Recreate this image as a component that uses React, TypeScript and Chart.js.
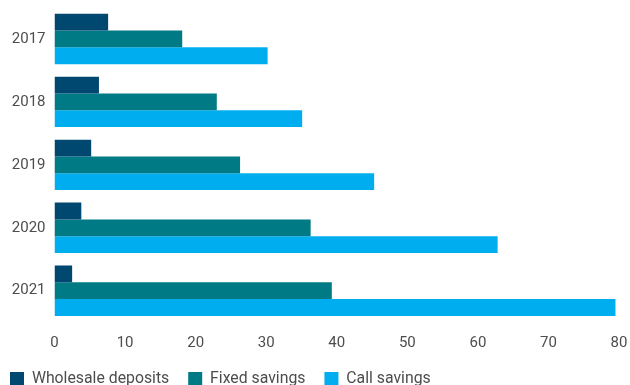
import React, { useEffect, useRef } from "react";
import { Chart, registerables } from "chart.js";

Chart.register(...registerables);

const years = ["2017", "2018", "2019", "2020", "2021"];
const wholesaleDeposits = [7.6, 6.3, 5.2, 3.8, 2.5];
const fixedSavings = [18.1, 23.0, 26.3, 36.3, 39.3];
const callSavings = [30.2, 35.1, 45.3, 62.8, 79.5];
const xTickMin = 0;
const xTickMax = 80;
const xTickStep = 10;

const FONT = "Roboto, 'Noto Sans', sans-serif";
const TICK_COLOR = "#4d4d4d";

const legendShift = {
  id: "legendShift",
  afterLayout(chart: any) {
    if (chart.legend) {
      chart.legend.left -= 9;
    }
  },
};

export default function App() {
  const ref = useRef<HTMLCanvasElement | null>(null);

  useEffect(() => {
    document.body.style.margin = "0";
    const canvas = ref.current;
    if (!canvas) return;
    const chart = new Chart(canvas, {
      type: "bar",
      data: {
        labels: years,
        datasets: [
          { label: "Wholesale deposits", data: wholesaleDeposits, backgroundColor: "#004870" },
          { label: "Fixed savings", data: fixedSavings, backgroundColor: "#007A84" },
          { label: "Call savings", data: callSavings, backgroundColor: "#00AEEF" },
        ],
      },
      options: {
        indexAxis: "y",
        animation: false,
        responsive: false,
        maintainAspectRatio: false,
        datasets: { bar: { categoryPercentage: 0.8, barPercentage: 1.0 } },
        layout: { padding: { top: 0, right: 0, left: 0, bottom: 0 } },
        plugins: {
          tooltip: { enabled: false },
          legend: {
            position: "bottom",
            align: "start",
            labels: {
              boxWidth: 14,
              boxHeight: 14,
              padding: 19,
              color: TICK_COLOR,
              font: { family: FONT, size: 15.8 },
            },
          },
        },
        scales: {
          x: {
            min: xTickMin,
            max: xTickMax,
            afterFit: (scale: any) => {
              scale.height = 30;
              scale.paddingLeft = 0;
              scale.paddingRight = 11;
            },
            ticks: { stepSize: xTickStep, color: TICK_COLOR, font: { family: FONT, size: 15 }, padding: 12 },
            grid: { display: false, drawTicks: false },
            border: { display: false },
          },
          y: {
            afterFit: (scale: any) => {
              scale.width = 54.5;
              scale.paddingTop = 7.5;
              scale.paddingBottom = 7.5;
            },
            ticks: { color: TICK_COLOR, font: { family: FONT, size: 15, lineHeight: 1.0 }, padding: 9 },
            grid: { display: false, drawTicks: false },
            border: { display: false },
          },
        },
      },
      plugins: [legendShift],
    });
    return () => chart.destroy();
  }, []);

  return <canvas ref={ref} width={630} height={397} style={{ display: "block" }} />;
}
